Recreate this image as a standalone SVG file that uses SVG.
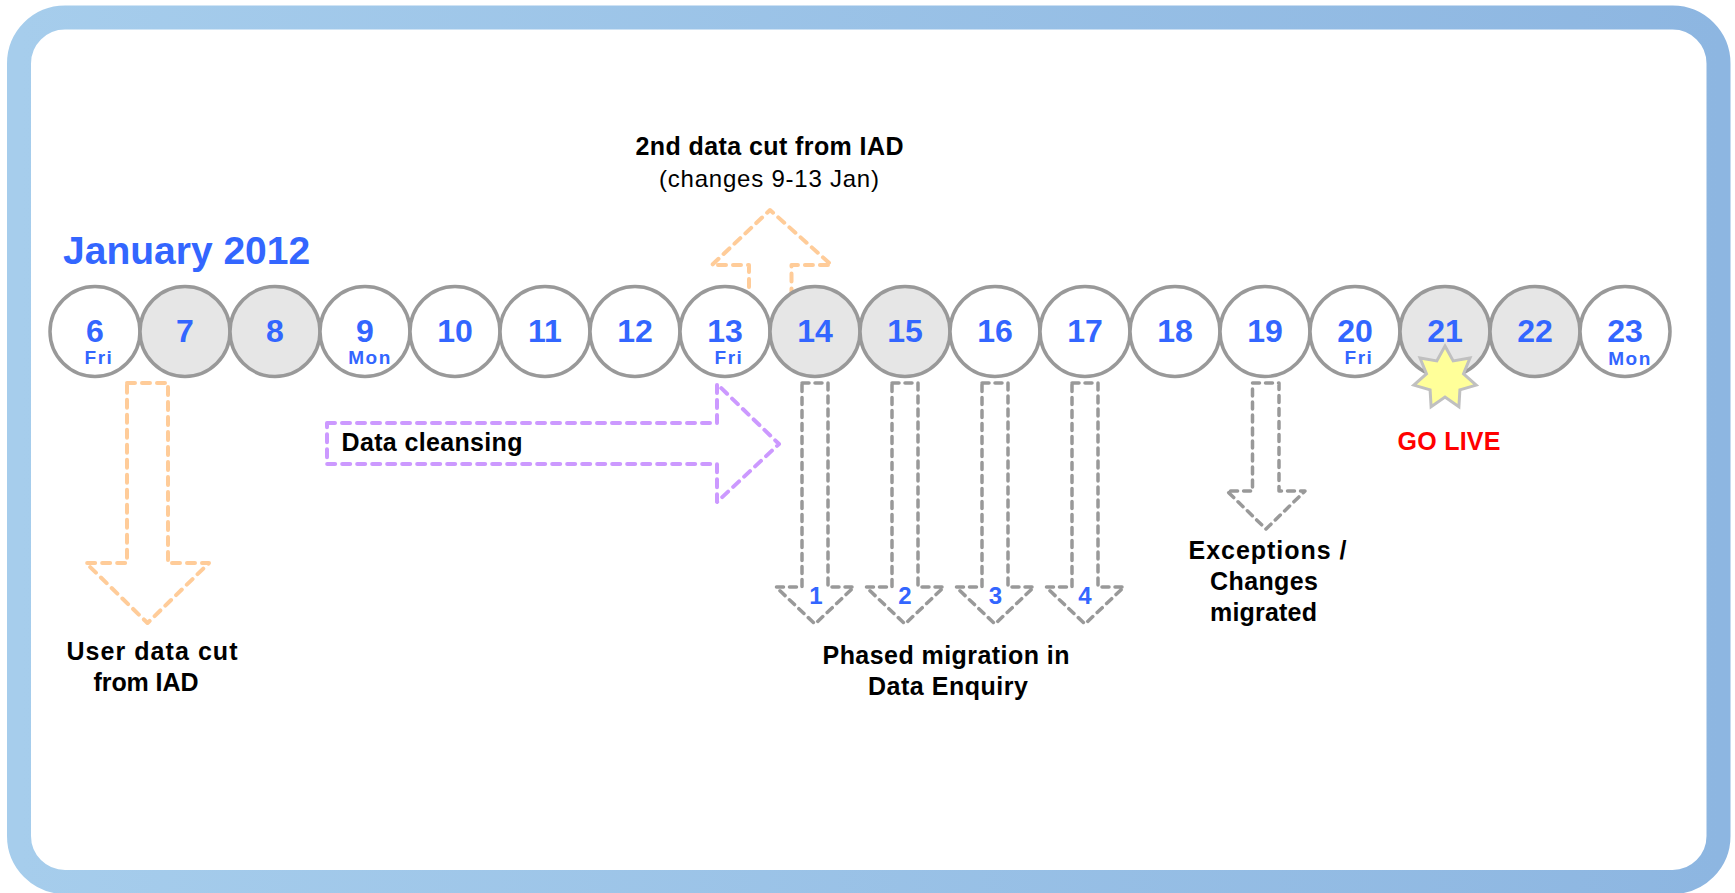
<svg xmlns="http://www.w3.org/2000/svg" width="1735" height="893" viewBox="0 0 1735 893">
<defs>
<linearGradient id="frameGrad" x1="0" y1="0" x2="1" y2="0">
<stop offset="0" stop-color="#A6CDEC"/>
<stop offset="1" stop-color="#8DB6E1"/>
</linearGradient>
<style>
.day-c{stroke:#999999;stroke-width:3.5}
.wk{fill:#FFFFFF}
.we{fill:#E6E6E6}
.num{font-family:"Liberation Sans",Arial,sans-serif;font-weight:bold;font-size:32px;fill:#3366FF;text-anchor:middle}
.dname{font-family:"Liberation Sans",Arial,sans-serif;font-weight:bold;font-size:19px;fill:#3366FF;text-anchor:middle;letter-spacing:1.5px}
.lbl{font-family:"Liberation Sans",Arial,sans-serif;font-weight:bold;font-size:25px;fill:#000000;text-anchor:middle}
.sub{font-family:"Liberation Sans",Arial,sans-serif;font-size:24px;fill:#000000;text-anchor:middle}
.phase{font-family:"Liberation Sans",Arial,sans-serif;font-weight:bold;font-size:24px;fill:#3366FF;text-anchor:middle}
.orange{fill:none;stroke:#FFCC99;stroke-width:4;stroke-dasharray:8 7;stroke-linecap:round;stroke-linejoin:round}
.purple{fill:none;stroke:#CC99FF;stroke-width:4;stroke-dasharray:8 7;stroke-linecap:round;stroke-linejoin:round}
.gray{fill:none;stroke:#999999;stroke-width:3.5;stroke-dasharray:7 6;stroke-linecap:round;stroke-linejoin:round}
</style>
</defs>
<rect x="0" y="0" width="1735" height="893" fill="#FFFFFF"/>
<rect id="frame" x="19" y="17.5" width="1699.5" height="864.5" rx="46" ry="46" fill="#FFFFFF" stroke="url(#frameGrad)" stroke-width="24"/>

<text id="title" x="63" y="264" font-family="'Liberation Sans',Arial,sans-serif" font-weight="bold" font-size="39" fill="#3366FF">January 2012</text>

<g id="connectors">
<path id="arrow-2nd-cut" class="orange" d="M749,332 V265 H712 L770,210 L831.5,265 H791.5 V332"/>
</g>

<g id="days">
<g id="d6"><circle class="day-c wk" cx="95" cy="331.5" r="45"/><text class="num" x="95" y="341.5">6</text><text class="dname" x="99" y="364">Fri</text></g>
<g id="d7"><circle class="day-c we" cx="185" cy="331.5" r="45"/><text class="num" x="185" y="341.5">7</text></g>
<g id="d8"><circle class="day-c we" cx="275" cy="331.5" r="45"/><text class="num" x="275" y="341.5">8</text></g>
<g id="d9"><circle class="day-c wk" cx="365" cy="331.5" r="45"/><text class="num" x="365" y="341.5">9</text><text class="dname" x="370" y="364">Mon</text></g>
<g id="d10"><circle class="day-c wk" cx="455" cy="331.5" r="45"/><text class="num" x="455" y="341.5">10</text></g>
<g id="d11"><circle class="day-c wk" cx="545" cy="331.5" r="45"/><text class="num" x="545" y="341.5">11</text></g>
<g id="d12"><circle class="day-c wk" cx="635" cy="331.5" r="45"/><text class="num" x="635" y="341.5">12</text></g>
<g id="d13"><circle class="day-c wk" cx="725" cy="331.5" r="45"/><text class="num" x="725" y="341.5">13</text><text class="dname" x="729" y="364">Fri</text></g>
<g id="d14"><circle class="day-c we" cx="815" cy="331.5" r="45"/><text class="num" x="815" y="341.5">14</text></g>
<g id="d15"><circle class="day-c we" cx="905" cy="331.5" r="45"/><text class="num" x="905" y="341.5">15</text></g>
<g id="d16"><circle class="day-c wk" cx="995" cy="331.5" r="45"/><text class="num" x="995" y="341.5">16</text></g>
<g id="d17"><circle class="day-c wk" cx="1085" cy="331.5" r="45"/><text class="num" x="1085" y="341.5">17</text></g>
<g id="d18"><circle class="day-c wk" cx="1175" cy="331.5" r="45"/><text class="num" x="1175" y="341.5">18</text></g>
<g id="d19"><circle class="day-c wk" cx="1265" cy="331.5" r="45"/><text class="num" x="1265" y="341.5">19</text></g>
<g id="d20"><circle class="day-c wk" cx="1355" cy="331.5" r="45"/><text class="num" x="1355" y="341.5">20</text><text class="dname" x="1359" y="364">Fri</text></g>
<g id="d21"><circle class="day-c we" cx="1445" cy="331.5" r="45"/><text class="num" x="1445" y="341.5">21</text></g>
<g id="d22"><circle class="day-c we" cx="1535" cy="331.5" r="45"/><text class="num" x="1535" y="341.5">22</text></g>
<g id="d23"><circle class="day-c wk" cx="1625" cy="331.5" r="45"/><text class="num" x="1625" y="341.5">23</text><text class="dname" x="1630" y="365">Mon</text></g>
</g>

<g id="golive-star">
<polygon points="1445,346 1453.2,360.9 1470,358 1463.5,373.8 1476.2,385.1 1459.9,389.8 1458.9,406.8 1445,397 1431.1,406.8 1430.1,389.8 1413.8,385.1 1426.5,373.8 1420,358 1436.8,360.9" fill="#FFFF99" stroke="#C0C0C0" stroke-width="3" stroke-linejoin="miter"/>
</g>

<g id="connectors-lower">
<path id="arrow-user-cut" class="orange" d="M127,383 H168 V563 H209 L147.5,623 L86,563 H127 Z"/>
<path id="arrow-cleansing" class="purple" d="M327,423 H717 V384 L779,444 L717,502 V464 H327 Z"/>
<path id="arrow-phase1" class="gray" d="M802,383 H828 V587 H854 L815,624 L776,587 H802 Z"/>
<path id="arrow-phase2" class="gray" d="M892,383 H918 V587 H944 L905,624 L866,587 H892 Z"/>
<path id="arrow-phase3" class="gray" d="M982,383 H1008 V587 H1034 L995,624 L956,587 H982 Z"/>
<path id="arrow-phase4" class="gray" d="M1072,383 H1098 V587 H1124 L1085,624 L1046,587 H1072 Z"/>
<path id="arrow-exceptions" class="gray" d="M1252.5,383 H1279 V491 H1305 L1266,529 L1227,491 H1252.5 Z"/>
</g>

<g id="phase-numbers">
<text class="phase" x="816" y="603.5">1</text>
<text class="phase" x="905" y="603.5">2</text>
<text class="phase" x="995.5" y="603.5">3</text>
<text class="phase" x="1085" y="603.5">4</text>
</g>

<g id="label-2nd-cut">
<text class="lbl" x="769.5" y="155" textLength="268" lengthAdjust="spacing">2nd data cut from IAD</text>
<text class="sub" x="769" y="186.5" textLength="220" lengthAdjust="spacing">(changes 9-13 Jan)</text>
</g>
<g id="label-user-cut">
<text class="lbl" x="152" y="660" textLength="171" lengthAdjust="spacing">User data cut</text>
<text class="lbl" x="146" y="691" textLength="105" lengthAdjust="spacing">from IAD</text>
</g>
<g id="label-cleansing">
<text x="341.5" y="451" font-family="'Liberation Sans',Arial,sans-serif" font-weight="bold" font-size="25" fill="#000000" textLength="181" lengthAdjust="spacing">Data cleansing</text>
</g>
<g id="label-phased">
<text class="lbl" x="946" y="663.5" textLength="247" lengthAdjust="spacing">Phased migration in</text>
<text class="lbl" x="948" y="695" textLength="160" lengthAdjust="spacing">Data Enquiry</text>
</g>
<g id="label-exceptions">
<text class="lbl" x="1267.5" y="558.5" textLength="158" lengthAdjust="spacing">Exceptions /</text>
<text class="lbl" x="1264" y="590" textLength="108" lengthAdjust="spacing">Changes</text>
<text class="lbl" x="1263.5" y="621" textLength="107" lengthAdjust="spacing">migrated</text>
</g>
<g id="label-golive">
<text x="1449" y="450" font-family="'Liberation Sans',Arial,sans-serif" font-weight="bold" font-size="25" fill="#FF0000" text-anchor="middle" textLength="103" lengthAdjust="spacing">GO LIVE</text>
</g>
</svg>
